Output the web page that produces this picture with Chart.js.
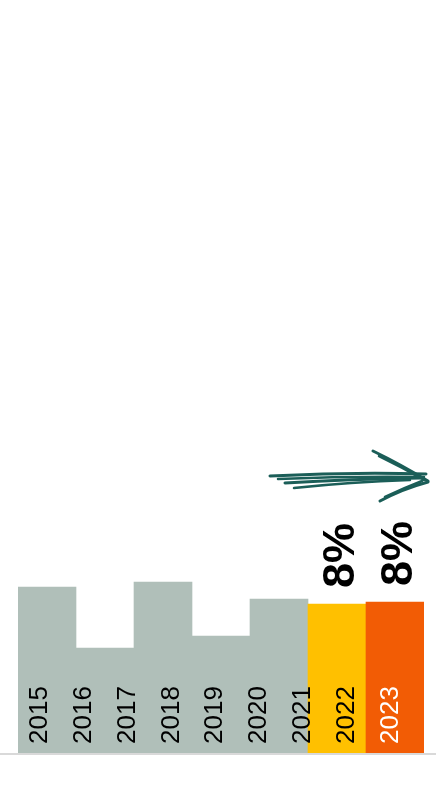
<!DOCTYPE html>
<html>
<head>
<meta charset="utf-8">
<script src="https://cdn.jsdelivr.net/npm/chart.js@4"></script>
<style>
  html, body { margin: 0; padding: 0; background: #fff; }
  canvas { display: block; }
</style>
</head>
<body>
<canvas id="chart" width="436" height="786"></canvas>
<script>
// datos
const years = ['2015', '2016', '2017', '2018', '2019', '2020', '2021', '2022', '2023'];
const barGroups = ['A', 'B', 'C', 'D', 'E', '2022', '2023'];
const barValues = [16.6, 10.5, 17.1, 11.7, 15.4, 14.9, 15.1];
const barColors = ['#b0bfb9', '#b0bfb9', '#b0bfb9', '#b0bfb9', '#b0bfb9', '#ffc000', '#f25c05'];
const growthLabels = ['', '', '', '', '', '8%', '8%'];

// los años ocupan 9.27 "casillas" a lo ancho del eje, empezando en 0.45
const YEAR_SLOTS = 9.27;
const YEAR_START = 0.45;

// etiquetas de años dentro de las barras
const yearLabels = {
    id: 'yearLabels',
    afterDatasetsDraw(chart) {
        const ctx = chart.ctx;
        const sx = chart.scales.x;
        const base = chart.scales.y.getPixelForValue(0);
        ctx.save();
        ctx.font = '26px "Liberation Sans", Arial, sans-serif';
        ctx.textBaseline = 'alphabetic';
        ctx.textAlign = 'left';
        years.forEach((y, i) => {
            const cx = sx.getPixelForDecimal((i + YEAR_START) / YEAR_SLOTS);
            ctx.save();
            ctx.translate(cx + 9.5, base - 9);
            ctx.rotate(-Math.PI / 2);
            ctx.fillStyle = i === years.length - 1 ? '#ffffff' : '#000000';
            ctx.fillText(y, 0, 0);
            ctx.restore();
        });

        // porcentajes arriba de las barras
        const meta = chart.getDatasetMeta(0);
        ctx.font = 'bold 45px "Liberation Sans", Arial, sans-serif';
        ctx.fillStyle = '#000';
        growthLabels.forEach((t, i) => {
            if (!t) return;
            const bar = meta.data[i];
            ctx.save();
            ctx.translate(bar.x + 17, bar.y - 16);
            ctx.rotate(-Math.PI / 2);
            ctx.fillText(t, 0, 0);
            ctx.restore();
        });
        ctx.restore();
    },
    afterDraw(chart) {
        const ctx = chart.ctx;
        const base = chart.scales.y.getPixelForValue(0);
        ctx.save();
        // linea base
        ctx.fillStyle = '#d9d9d9';
        ctx.fillRect(0, base, chart.width, 2);

        // flecha a mano
        ctx.strokeStyle = '#1b5e58';
        ctx.lineCap = 'round';
        const strokes = [
            [270, 476, 350, 472, 426, 474, 3],
            [278, 479, 350, 476, 424, 477, 2.5],
            [285, 483, 350, 479, 420, 478, 3],
            [294, 488, 350, 482, 410, 480, 2.5],
            [373, 451, 400, 464, 428, 481, 3],
            [379, 456, 402, 467, 424, 480, 2.5],
            [380, 501, 402, 489, 428, 482, 3],
            [385, 497, 404, 488, 422, 481, 2.5]
        ];
        strokes.forEach(s => {
            ctx.lineWidth = s[6];
            ctx.beginPath();
            ctx.moveTo(s[0], s[1]);
            ctx.quadraticCurveTo(s[2], s[3], s[4], s[5]);
            ctx.stroke();
        });
        ctx.restore();
    }
};

const ctx = document.getElementById('chart').getContext('2d');
const myChart = new Chart(ctx, {
    type: 'bar',
    data: {
        labels: barGroups,
        datasets: [{
            data: barValues,
            backgroundColor: barColors,
            borderWidth: 0,
            barPercentage: 1,
            categoryPercentage: 1
        }]
    },
    options: {
        responsive: false,
        animation: false,
        layout: { padding: { left: 18, right: 12, top: 0, bottom: 33 } },
        scales: {
            x: { display: false },
            y: { display: false, min: 0, max: 75.3 }
        },
        plugins: {
            legend: { display: false },
            tooltip: { enabled: false }
        }
    },
    plugins: [yearLabels]
});
</script>
</body>
</html>
